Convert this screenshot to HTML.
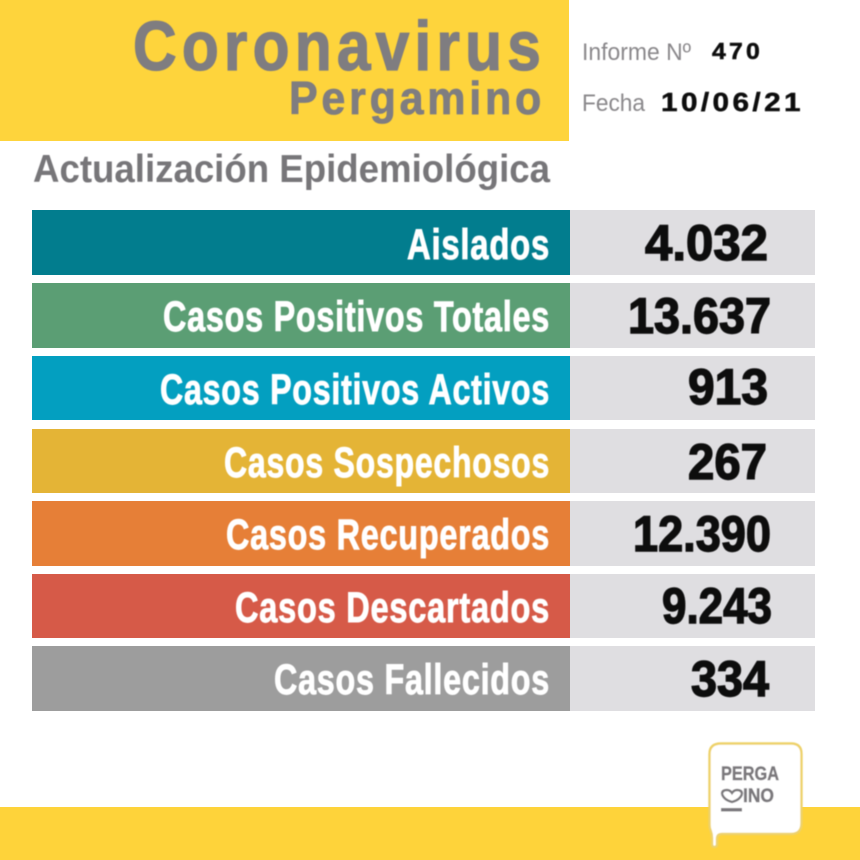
<!DOCTYPE html>
<html lang="es">
<head>
<meta charset="utf-8">
<title>Coronavirus Pergamino</title>
<style>
html,body{margin:0;padding:0;background:#fff;width:860px;height:860px;overflow:hidden}
svg{display:block}
text{font-family:"Liberation Sans",sans-serif}
.b{font-weight:700}
.lab{font-weight:700;fill:#fff;font-size:43px;stroke:#fff;stroke-width:.9;letter-spacing:1px}
.val{font-weight:700;fill:#0a0a0a;font-size:50px;stroke:#0a0a0a;stroke-width:1.4}
.soft{filter:url(#soft)}
</style>
</head>
<body>
<svg width="860" height="860" viewBox="0 0 860 860">
<defs><filter id="soft" x="-5%" y="-5%" width="110%" height="110%"><feGaussianBlur stdDeviation="0.5"/></filter></defs>
<rect x="0" y="0" width="860" height="860" fill="#fff"/>
<rect x="0" y="0" width="569" height="141" fill="#fed43c"/>
<rect x="0" y="807" width="860" height="53" fill="#fed33a"/>

<g class="soft">
<text class="b" x="133" y="70" font-size="70" letter-spacing="6" fill="#7f7d80" stroke="#7f7d80" stroke-width="1.300" textLength="413" lengthAdjust="spacingAndGlyphs">Coronavirus</text>
<text class="b" x="289" y="114" font-size="46" letter-spacing="4" fill="#7f7d80" stroke="#7f7d80" stroke-width=".8" textLength="256" lengthAdjust="spacingAndGlyphs">Pergamino</text>
<text x="582" y="60" font-size="24" fill="#8a888b" textLength="109" lengthAdjust="spacingAndGlyphs">Informe Nº</text>
<text class="b" x="712" y="59" font-size="23" letter-spacing="3" fill="#0a0a0a" stroke="#0a0a0a" stroke-width=".5" textLength="51" lengthAdjust="spacingAndGlyphs">470</text>
<text x="582" y="111" font-size="24" fill="#8a888b" textLength="63" lengthAdjust="spacingAndGlyphs">Fecha</text>
<text class="b" x="661" y="111" font-size="26" letter-spacing="3" fill="#0a0a0a" stroke="#0a0a0a" stroke-width=".5" textLength="143" lengthAdjust="spacingAndGlyphs">10/06/21</text>
<text class="b" x="33" y="182" font-size="39" fill="#777679" textLength="517" lengthAdjust="spacingAndGlyphs">Actualización Epidemiológica</text>
</g>

<g>
<rect x="32" y="210" width="538" height="65" fill="#027d8e"/>
<rect x="570" y="210" width="245" height="65" fill="#dfdee1"/>
<g class="soft">
<text class="lab" x="407" y="259" textLength="143" lengthAdjust="spacingAndGlyphs">Aislados</text>
<text class="val" x="645" y="260" textLength="123" lengthAdjust="spacingAndGlyphs">4.032</text>
</g></g>

<g>
<rect x="32" y="283" width="538" height="65" fill="#5b9e74"/>
<rect x="570" y="283" width="245" height="65" fill="#dfdee1"/>
<g class="soft">
<text class="lab" x="163" y="331" textLength="387" lengthAdjust="spacingAndGlyphs">Casos Positivos Totales</text>
<text class="val" x="628" y="333" textLength="143" lengthAdjust="spacingAndGlyphs">13.637</text>
</g></g>

<g>
<rect x="32" y="356" width="538" height="64" fill="#039fc0"/>
<rect x="570" y="356" width="245" height="64" fill="#dfdee1"/>
<g class="soft">
<text class="lab" x="160" y="404" textLength="390" lengthAdjust="spacingAndGlyphs">Casos Positivos Activos</text>
<text class="val" x="688" y="404" textLength="80" lengthAdjust="spacingAndGlyphs">913</text>
</g></g>

<g>
<rect x="32" y="429" width="538" height="64" fill="#e4b436"/>
<rect x="570" y="429" width="245" height="64" fill="#dfdee1"/>
<g class="soft">
<text class="lab" x="224" y="477" textLength="326" lengthAdjust="spacingAndGlyphs">Casos Sospechosos</text>
<text class="val" x="688" y="479" textLength="79" lengthAdjust="spacingAndGlyphs">267</text>
</g></g>

<g>
<rect x="32" y="501" width="538" height="65" fill="#e67f37"/>
<rect x="570" y="501" width="245" height="65" fill="#dfdee1"/>
<g class="soft">
<text class="lab" x="226" y="549" textLength="324" lengthAdjust="spacingAndGlyphs">Casos Recuperados</text>
<text class="val" x="633" y="551" textLength="138" lengthAdjust="spacingAndGlyphs">12.390</text>
</g></g>

<g>
<rect x="32" y="574" width="538" height="64" fill="#d65a48"/>
<rect x="570" y="574" width="245" height="64" fill="#dfdee1"/>
<g class="soft">
<text class="lab" x="235" y="622" textLength="315" lengthAdjust="spacingAndGlyphs">Casos Descartados</text>
<text class="val" x="662" y="623" textLength="110" lengthAdjust="spacingAndGlyphs">9.243</text>
</g></g>

<g>
<rect x="32" y="646" width="538" height="65" fill="#9d9d9d"/>
<rect x="570" y="646" width="245" height="65" fill="#dfdee1"/>
<g class="soft">
<text class="lab" x="274" y="694" textLength="276" lengthAdjust="spacingAndGlyphs">Casos Fallecidos</text>
<text class="val" x="691" y="696" textLength="78" lengthAdjust="spacingAndGlyphs">334</text>
</g></g>

<g class="soft">
<path d="M721 743.500H791Q801.500 743.500 801.500 754V823Q801.500 834 791 834H722Q717 834 717 839V844Q717 847 714.500 847Q712 847 712 844V838Q712 834 710.500 830Q709.500 828 709.500 824V754Q709.500 743.500 721 743.500Z" fill="#fff" stroke="#eed26a" stroke-width="2.400"/>
<text class="b" x="721" y="780" font-size="19" fill="#7b797d" stroke="#7b797d" stroke-width=".5" textLength="58" lengthAdjust="spacingAndGlyphs">PERGA</text>
<path d="M722 794Q722 790 727 790Q730 790 732 793Q734 790 737 790Q742 790 742 794M722 794Q724 800 732 802Q740 800 742 794" fill="none" stroke="#7b797d" stroke-width="2.400"/>
<text class="b" x="743" y="802" font-size="19" fill="#7b797d" stroke="#7b797d" stroke-width=".5" textLength="31" lengthAdjust="spacingAndGlyphs">INO</text>
<rect x="721" y="808" width="21" height="3.500" fill="#7b797d"/>
</g>
</svg>
</body>
</html>
